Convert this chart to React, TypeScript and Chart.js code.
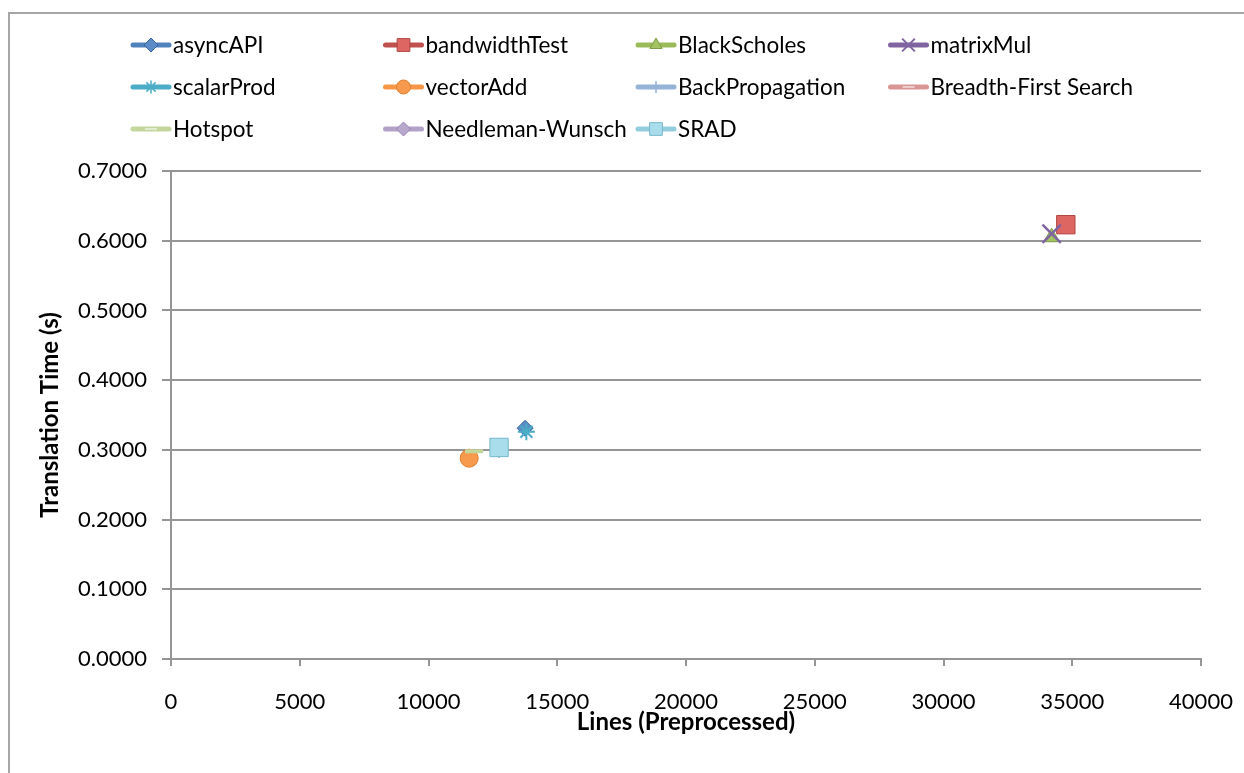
import React, { useEffect, useRef } from 'react';
import { Chart, registerables } from 'chart.js';
import { drawPoint } from 'chart.js/helpers';

Chart.register(...registerables);

// ---- data ----
const seriesNames = [
  'asyncAPI', 'bandwidthTest', 'BlackScholes', 'matrixMul',
  'scalarProd', 'vectorAdd', 'BackPropagation', 'Breadth-First Search',
  'Hotspot', 'Needleman-Wunsch', 'SRAD',
];
const linesPreprocessed = [13750, 34750, 34200, 34200, 13800, 11580, 12740, 12740, 11770, 12750, 12740];
const translationTime = [0.331, 0.623, 0.605, 0.610, 0.326, 0.288, 0.300, 0.3035, 0.298, 0.303, 0.3035];

const xTitle = 'Lines (Preprocessed)';
const yTitle = 'Translation Time (s)';

// ---- styles ----
const mainColors = ['#4F81BD', '#C0504D', '#9BBB59', '#8064A2', '#4BACC6', '#F79646', '#95B3D7', '#D99694', '#C3D69B', '#B3A2C7', '#93CDDD'];
const fillColors = ['#5B8CC8', '#DD6663', '#A3C463', '#8064A2', '#4BACC6', '#F79A4E', '#95B3D7', '#D99694', '#D3E2B0', '#B8A8CC', '#A9DDEC'];
const borderColors = ['#3C679C', '#B14542', '#7F9D44', '#8064A2', '#4BACC6', '#E0802F', '#95B3D7', '#D99694', '#B9CF8E', '#9985B3', '#77B9CC'];
const pointStyles = ['rectRot', 'rect', 'triangle', 'crossRot', 'star', 'circle', 'cross', 'line', 'line', 'rectRot', 'rect'];
const pointRadii = [8, 13, 9, 13, 8.5, 9, 8, 9, 9, 8, 13];
const pointBorderWidths = [1, 1, 1, 2.5, 2, 1, 2, 4, 4, 1, 1];
const legendRadii = [7, 9, 7, 9, 6.5, 7, 6, 6, 6, 7, 9];
const legendBorderWidths = [1, 1, 1, 2, 1.5, 1, 1.5, 2, 2, 1, 1];

const FONT = 'Lato, "Open Sans", sans-serif';
const GRID = '#959595';

const legendPlugin = {
  id: 'excelLegend',
  afterDraw(chart: any) {
    const ctx = chart.ctx as CanvasRenderingContext2D;
    ctx.save();
    chart.data.datasets.forEach((ds: any, i: number) => {
      const col = i % 4;
      const row = Math.floor(i / 4);
      const x0 = 130 + col * 252.5;
      const y0 = 45 + row * 42;
      ctx.strokeStyle = mainColors[i];
      ctx.lineWidth = 5;
      ctx.lineCap = 'round';
      ctx.beginPath();
      ctx.moveTo(x0 + 3, y0);
      ctx.lineTo(x0 + 39, y0);
      ctx.stroke();
      ctx.lineCap = 'butt';
      const ps = pointStyles[i];
      ctx.fillStyle = fillColors[i];
      ctx.strokeStyle = ps === 'line' ? '#ffffff80' : borderColors[i];
      ctx.lineWidth = legendBorderWidths[i];
      drawPoint(ctx, { pointStyle: ps, radius: legendRadii[i], borderWidth: legendBorderWidths[i], rotation: 0 } as any, x0 + 21, y0);
      ctx.fillStyle = '#000000';
      ctx.font = '22.5px ' + FONT;
      ctx.textAlign = 'left';
      ctx.textBaseline = 'middle';
      ctx.fillText(ds.label, x0 + 43, y0 + 1);
    });
    ctx.restore();
  },
};

const framePlugin = {
  id: 'frame',
  beforeDraw(chart: any) {
    const ctx = chart.ctx as CanvasRenderingContext2D;
    ctx.save();
    ctx.fillStyle = '#ffffff';
    ctx.fillRect(0, 0, chart.width, chart.height);
    ctx.strokeStyle = '#a6a6a6';
    ctx.lineWidth = 2;
    ctx.strokeRect(9, 13, chart.width + 20, chart.height + 20);
    ctx.restore();
  },
};

export default function App() {
  const canvasRef = useRef<HTMLCanvasElement | null>(null);

  useEffect(() => {
    if (!canvasRef.current) return;
    const datasets = seriesNames.map((name, i) => ({
      label: name,
      data: [{ x: linesPreprocessed[i], y: translationTime[i] }],
      showLine: false,
      order: -i,
      pointStyle: pointStyles[i],
      pointRadius: pointRadii[i],
      pointHoverRadius: pointRadii[i],
      pointBackgroundColor: fillColors[i],
      pointBorderColor: pointStyles[i] === 'line' ? mainColors[i] : borderColors[i],
      pointBorderWidth: pointBorderWidths[i],
      backgroundColor: fillColors[i],
      borderColor: mainColors[i],
    }));

    const chart = new Chart(canvasRef.current, {
      type: 'scatter',
      data: { datasets } as any,
      plugins: [framePlugin, legendPlugin],
      options: {
        responsive: false,
        animation: false,
        events: [],
        layout: { padding: { left: 0, top: 171, right: 43, bottom: 0 } },
        plugins: { legend: { display: false }, tooltip: { enabled: false } },
        scales: {
          x: {
            type: 'linear',
            min: 0,
            max: 40000,
            afterFit: (s: any) => { s.height = 114; s.paddingLeft = 0; s.paddingRight = 0; },
            ticks: {
              stepSize: 5000,
              padding: 23,
              color: '#000000',
              font: { family: FONT, size: 22 },
              maxRotation: 0,
              callback: (v: any) => String(v),
            },
            grid: { drawOnChartArea: false, drawTicks: true, tickLength: 7, color: GRID, lineWidth: 2 },
            border: { display: true, color: GRID, width: 2 },
            title: {
              display: true,
              text: xTitle,
              color: '#000000',
              font: { family: FONT, size: 24, weight: 'bold' },
              padding: { top: 0, bottom: 36 },
            },
          },
          y: {
            type: 'linear',
            min: 0,
            max: 0.7,
            afterFit: (s: any) => { s.width = 171; s.paddingTop = 0; s.paddingBottom = 0; },
            ticks: {
              stepSize: 0.1,
              padding: 15,
              color: '#000000',
              font: { family: FONT, size: 22 },
              callback: (v: any) => Number(v).toFixed(4),
            },
            grid: { drawOnChartArea: true, drawTicks: true, tickLength: 9, color: GRID, lineWidth: 2 },
            border: { display: true, color: GRID, width: 2 },
            title: {
              display: true,
              text: yTitle,
              color: '#000000',
              font: { family: FONT, size: 24, weight: 'bold' },
              padding: { top: 36, bottom: 0 },
            },
          },
        },
      } as any,
    });
    return () => chart.destroy();
  }, []);

  return (
    <canvas
      ref={canvasRef}
      width={1244}
      height={773}
      style={{ position: 'fixed', left: 0, top: 0, width: 1244, height: 773, display: 'block' }}
    />
  );
}
